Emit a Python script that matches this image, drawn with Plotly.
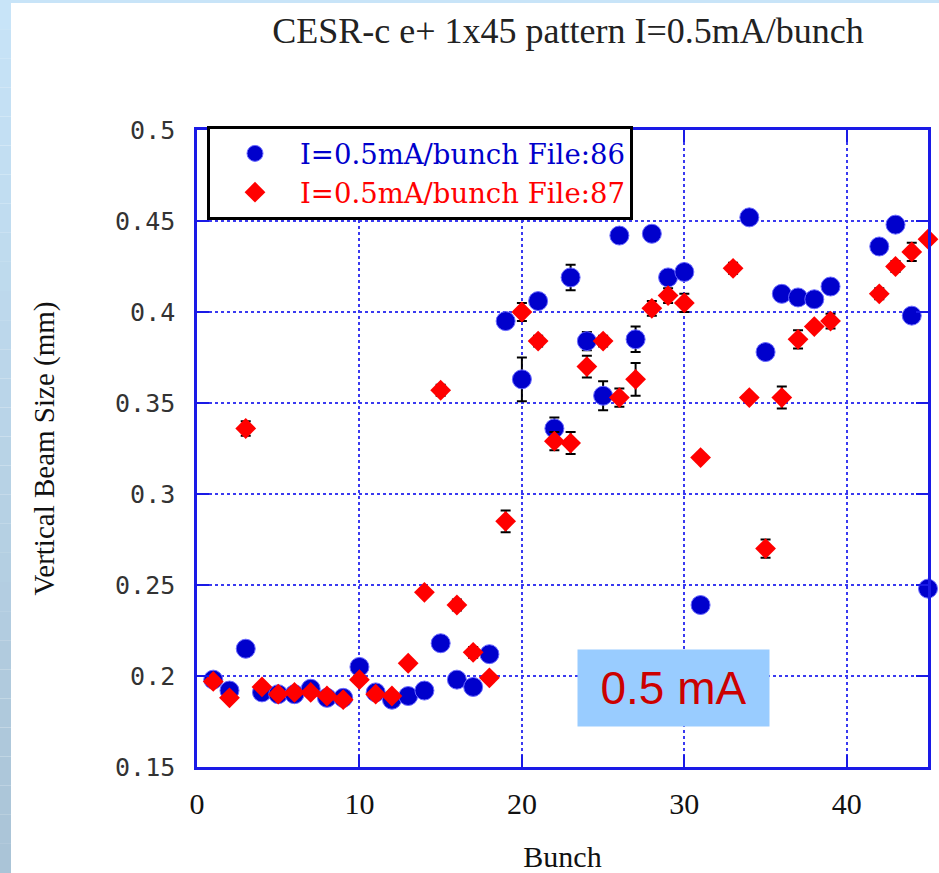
import plotly.graph_objects as go

# ---- data -------------------------------------------------------------
bunch_86 = list(range(1, 32)) + [34, 35, 36, 37, 38, 39, 42, 43, 44, 45]
size_86 = [0.198, 0.192, 0.215, 0.191, 0.190, 0.190, 0.193, 0.188, 0.188, 0.205,
           0.191, 0.187, 0.189, 0.192, 0.218, 0.198, 0.194, 0.212, 0.395, 0.363,
           0.406, 0.336, 0.419, 0.384, 0.354, 0.442, 0.385, 0.443, 0.419, 0.422,
           0.239, 0.452, 0.378, 0.410, 0.408, 0.407, 0.414, 0.436, 0.448, 0.398,
           0.248]
err_86 = [0.002, 0.002, 0.002, 0.002, 0.002, 0.002, 0.002, 0.002, 0.002, 0.002,
          0.002, 0.002, 0.002, 0.002, 0.002, 0.002, 0.002, 0.002, 0.002, 0.012,
          0.003, 0.006, 0.007, 0.005, 0.008, 0.003, 0.007, 0.002, 0.002, 0.002,
          0.002, 0.002, 0.003, 0.002, 0.002, 0.002, 0.002, 0.002, 0.004, 0.002,
          0.002]

bunch_87 = list(range(1, 32)) + [33, 34, 35, 36, 37, 38, 39, 42, 43, 44, 45]
size_87 = [0.197, 0.188, 0.336, 0.194, 0.190, 0.191, 0.191, 0.189, 0.187, 0.198,
           0.190, 0.189, 0.207, 0.246, 0.357, 0.239, 0.213, 0.199, 0.285, 0.400,
           0.384, 0.329, 0.328, 0.370, 0.384, 0.353, 0.363, 0.402, 0.409, 0.405,
           0.320, 0.424, 0.353, 0.270, 0.353, 0.385, 0.392, 0.395, 0.410, 0.425,
           0.433, 0.440]
err_87 = [0.002, 0.002, 0.004, 0.002, 0.002, 0.002, 0.002, 0.002, 0.002, 0.002,
          0.002, 0.002, 0.002, 0.002, 0.003, 0.003, 0.003, 0.002, 0.006, 0.005,
          0.003, 0.005, 0.006, 0.006, 0.003, 0.005, 0.009, 0.004, 0.004, 0.005,
          0.002, 0.003, 0.002, 0.005, 0.006, 0.005, 0.002, 0.004, 0.003, 0.003,
          0.005, 0.002]

y_ticks = [0.15, 0.2, 0.25, 0.3, 0.35, 0.4, 0.45, 0.5]
y_tick_text = ["0.15", "0.2", "0.25", "0.3", "0.35", "0.4", "0.45", "0.5"]
x_ticks = [0, 10, 20, 30, 40]

# ---- page geometry (pixels) --------------------------------------------
W, H = 939, 873
ML, MR, MT, MB = 197, 11, 130, 106
PW, PH = W - ML - MR, H - MT - MB

AXIS_BLUE = "#1a1ae6"
GRID_BLUE = "#3a3af0"
SERIF = "Liberation Serif, Times New Roman, serif"
WIDE_SERIF = "DejaVu Serif, serif"


def px_x(px):
    return (px - ML) / PW


def px_y(py):
    return (H - MB - py) / PH


fig = go.Figure()

fig.add_trace(go.Scatter(
    x=bunch_86, y=size_86, mode="markers",
    name="<span style='color:#0000cc'>I=0.5mA/bunch File:86</span>",
    marker=dict(symbol="circle", size=19, color="#0000cc",
                line=dict(width=1, color="#6a6aff")),
    error_y=dict(type="data", array=err_86, color="black", thickness=2, width=5),
    cliponaxis=False,
))
fig.add_trace(go.Scatter(
    x=bunch_87, y=size_87, mode="markers",
    name="<span style='color:#ff0000'>I=0.5mA/bunch File:87</span>",
    marker=dict(symbol="diamond", size=16, color="#ff0000",
                line=dict(width=0)),
    error_y=dict(type="data", array=err_87, color="black", thickness=2, width=5),
    cliponaxis=False,
))

# slide background: light blue strips at left and top edge
shapes = []
n_bands = 30
for i in range(n_bands):
    t = i / (n_bands - 1)
    r = int(200 + (170 - 200) * t)
    g = int(228 + (196 - 228) * t)
    b = int(248 + (215 - 248) * t)
    y0 = H * i / n_bands
    y1 = H * (i + 1) / n_bands
    shapes.append(dict(type="rect", xref="paper", yref="paper", layer="below",
                       x0=px_x(0), x1=px_x(11), y0=px_y(y1), y1=px_y(y0),
                       fillcolor=f"rgb({r},{g},{b})", line=dict(width=0)))
shapes.append(dict(type="rect", xref="paper", yref="paper", layer="below",
                   x0=px_x(0), x1=px_x(W), y0=px_y(3), y1=px_y(0),
                   fillcolor="rgb(200,228,248)", line=dict(width=0)))

fig.update_layout(
    width=W, height=H,
    margin=dict(l=ML, r=MR, t=MT, b=MB, autoexpand=False),
    paper_bgcolor="white", plot_bgcolor="white",
    shapes=shapes,
    title=dict(text="CESR-c e+ 1x45 pattern I=0.5mA/bunch",
               x=568 / W, xanchor="center", y=1 - 30 / H, yanchor="middle",
               font=dict(family=SERIF, size=36, color="#222222")),
    xaxis=dict(range=[0, 45], tickvals=x_ticks, ticks="inside", ticklen=12,
               tickwidth=2, tickcolor=AXIS_BLUE, showline=True, linewidth=2.5,
               linecolor=AXIS_BLUE, mirror="ticks", showgrid=True,
               gridcolor=GRID_BLUE, gridwidth=2, griddash="dot", zeroline=False,
               ticklabelstandoff=8,
               tickfont=dict(family=SERIF, size=30, color="#111111"),
               title=dict(text="Bunch", standoff=28,
                          font=dict(family=SERIF, size=30, color="#111111"))),
    yaxis=dict(range=[0.15, 0.5], tickvals=y_ticks, ticktext=y_tick_text,
               ticks="inside", ticklen=12, tickwidth=2, tickcolor=AXIS_BLUE,
               showline=True, linewidth=2.5, linecolor=AXIS_BLUE, mirror="ticks",
               showgrid=True, gridcolor=GRID_BLUE, gridwidth=2, griddash="dot",
               zeroline=False, ticklabelstandoff=14,
               tickfont=dict(family="DejaVu Sans Mono, monospace", size=25,
                             color="#333333"),
               title=dict(text="Vertical Beam Size (mm)", standoff=52,
                          font=dict(family=SERIF, size=29, color="#111111"))),
    legend=dict(x=px_x(207), y=px_y(126), xanchor="left", yanchor="top",
                bgcolor="white", bordercolor="black", borderwidth=3,
                itemwidth=80, tracegroupgap=0,
                font=dict(family=WIDE_SERIF, size=27.5)),
    annotations=[dict(text="0.5 mA", xref="paper", yref="paper",
                      x=px_x(673.5), y=px_y(688), xanchor="center",
                      yanchor="middle", showarrow=False, bgcolor="#99ccff",
                      width=187, height=72, borderpad=2,
                      font=dict(family="Liberation Sans, Arial, sans-serif",
                                size=46, color="#cc0000"))],
)

fig.write_html("out.html")
